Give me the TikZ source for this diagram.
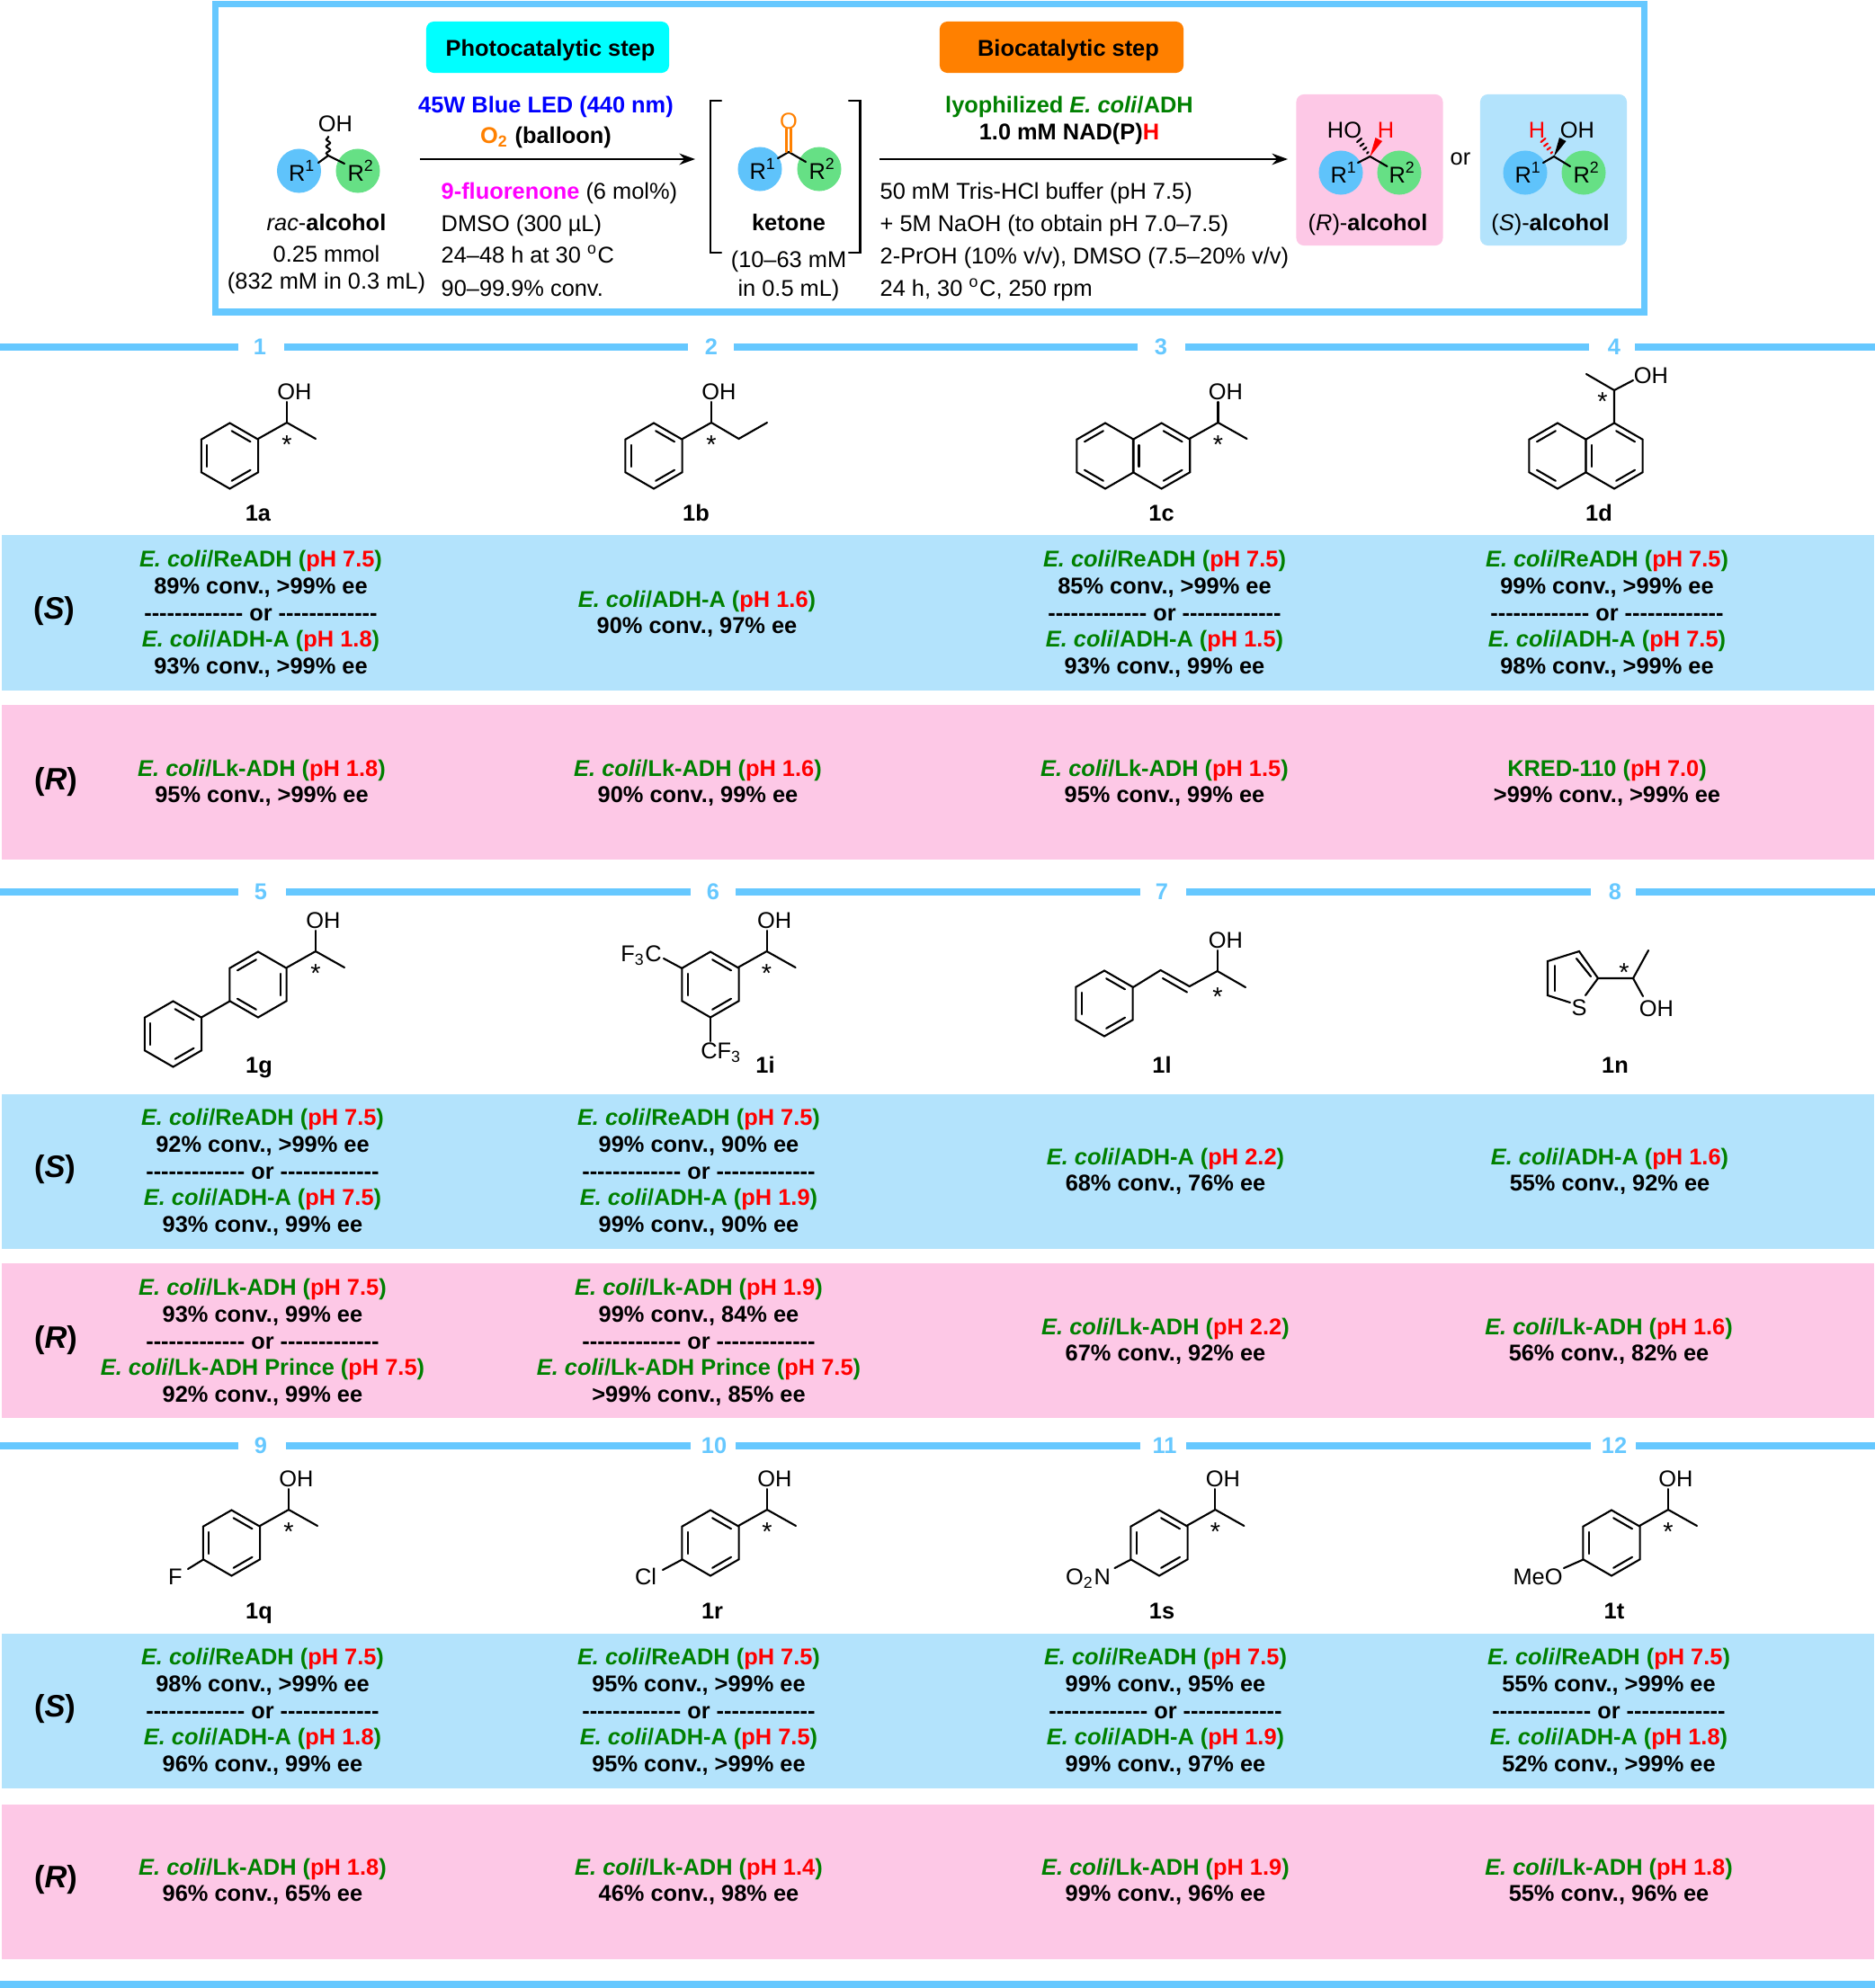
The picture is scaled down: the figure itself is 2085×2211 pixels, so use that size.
\documentclass[tikz,border=0pt]{standalone}
\usepackage{fontspec}
\setmainfont{Liberation Sans}
\usepackage{xcolor}
\usetikzlibrary{arrows.meta,positioning,calc,decorations.pathmorphing}
\definecolor{barblue}{HTML}{66C8FF}
\definecolor{bandblue}{HTML}{B3E3FC}
\definecolor{bandpink}{HTML}{FDC8E6}
\definecolor{rone}{HTML}{5FC3FB}
\definecolor{rtwo}{HTML}{66E085}
\definecolor{enzgreen}{HTML}{008000}
\definecolor{stepcyan}{HTML}{00FFFF}
\definecolor{steporange}{HTML}{FF8000}
\definecolor{fluormag}{HTML}{FF00FF}
\tikzset{
  every node/.style={font=\fontsize{7.22}{8.5}\selectfont, inner sep=0pt},
  bond/.style={line width=0.6pt, line cap=round},
  plainline/.style={text height=5.9pt, text depth=0.9pt},
  leftline/.style={plainline, anchor=west},
  cell/.style={align=center, yshift=-0.5pt, font=\fontsize{7.22}{8.5}\selectfont\bfseries},
  atom/.style={text height=5.2pt, text depth=0pt},
  compound/.style={text height=5.2pt, text depth=0pt, font=\fontsize{7.22}{8.5}\selectfont\bfseries},
  starmark/.style={yshift=-1.1pt, font=\fontsize{8.2}{9}\selectfont},
  rgroup/.style={circle, minimum size=0.49cm},
  stepbox/.style={rounded corners=2.4pt, minimum height=0.57cm},
  alcoholbox/.style={rounded corners=2.4pt, minimum width=1.63cm, minimum height=1.68cm},
  band/.style={minimum width=20.81cm, minimum height=1.72cm},
  bandmark/.style={font=\fontsize{9.8}{11}\selectfont\bfseries},
  secbar/.style={line width=2.2pt, barblue},
  secnum/.style={font=\fontsize{7.22}{8.5}\selectfont\bfseries, text=barblue},
  reaction/.style={line width=0.6pt, -{Stealth[length=5pt,width=3.6pt]}}
}
\newcommand{\ec}[2]{\textcolor{enzgreen}{\textit{E. coli}/#1 (}\textcolor{red}{pH #2}\textcolor{enzgreen}{)}}
\newcommand{\cv}[2]{#1\% conv., #2\% ee}
\newcommand{\orln}{-{}-{}-{}-{}-{}-{}-{}-{}-{}-{}-{}-{}- or -{}-{}-{}-{}-{}-{}-{}-{}-{}-{}-{}-{}-}
\newcommand{\rgrp}[1]{\kern2pt R\textsuperscript{#1}}
% hexagon centre x, centre y, edges with an inner line
\newcommand{\benzring}[3]{%
  \begin{scope}[shift={(#1,#2)}]
    \draw[bond] (30:36.5) -- (90:36.5) -- (150:36.5) -- (210:36.5) -- (270:36.5) -- (330:36.5) -- cycle;
    \foreach \k in {#3} {
      \draw[bond, shorten >=0.7pt, shorten <=0.7pt] ({30+60*\k}:29) -- ({90+60*\k}:29);
    }
  \end{scope}}
% side chain with the carbinol carbon at x, y
\newcommand{\carbinol}[2]{%
  \draw[bond] (#1-32,#2+18) -- (#1,#2) -- (#1+32,#2+18);
  \draw[bond] (#1,#2) -- (#1,#2-23);
  \node[atom] at (#1+8.5,#2-35) {OH};
  \node[starmark] at (#1,#2+21) {*};}
\begin{document}
\begin{tikzpicture}[x=0.01cm, y=-0.01cm]
\useasboundingbox (0,0) rectangle (2085,2211);
% scheme on top
\draw[barblue, line width=2pt] (239.5,4.5) rectangle (1828.5,347);
\node[stepbox, fill=stepcyan, minimum width=2.70cm] (photo) at (609,52.5) {};
\node[font=\fontsize{7.22}{8.5}\selectfont\bfseries, plainline] (phototext) at (612,54) {Photocatalytic step};
\node[stepbox, fill=steporange, minimum width=2.71cm] (bio) at (1180.5,52.5) {};
\node[font=\fontsize{7.22}{8.5}\selectfont\bfseries, plainline] (biotext) at (1188,54) {Biocatalytic step};

\node[rgroup, fill=rone] (racone) at (332.5,190) {\rgrp{1}};
\node[rgroup, fill=rtwo] (ractwo) at (398,190) {\rgrp{2}};
\draw[bond] (354,181) -- (365,173) -- (383,182);
\draw[bond, decorate, decoration={snake, amplitude=0.6pt, segment length=2.2pt}] (365,173) -- (365,152);
\node[atom] (racoh) at (373,137) {OH};
\node[plainline] (racname) at (363,248) {\textit{rac}-\textbf{alcohol}};
\node[plainline] (racamount) at (363,283) {0.25 mmol};
\node[plainline] (racconc) at (363,313) {(832 mM in 0.3 mL)};

\node[plainline] (led) at (607,117) {\textcolor{blue}{\textbf{45W Blue LED (440 nm)}}};
\node[plainline] (oxygen) at (607,151) {\textbf{\textcolor{steporange}{O\textsubscript{2}} (balloon)}};
\coordinate (photostart) at (467,177);
\coordinate (photoend) at (773,177);
\draw[reaction] (photostart) -- (photoend);
\node[leftline] (fluorenone) at (490,213) {\textcolor{fluormag}{\textbf{9-fluorenone}} (6 mol\%)};
\node[leftline] (dmso) at (490,249) {DMSO (300 µL)};
\node[leftline] (photohours) at (490,284) {24–48 h at 30 \textsuperscript{o}C};
\node[leftline] (photoconv) at (490,321) {90–99.9\% conv.};

\draw[bond] (802,112) -- (790,112) -- (790,281) -- (802,281);
\draw[bond] (944,112) -- (956.5,112) -- (956.5,281) -- (944,281);
\node[rgroup, fill=rone] (ketone one) at (845,188) {\rgrp{1}};
\node[rgroup, fill=rtwo] (ketone two) at (911,188) {\rgrp{2}};
\draw[bond] (865,176) -- (877,169) -- (896,180);
\draw[bond, steporange] (874.5,169) -- (874.5,143);
\draw[bond, steporange] (879.5,169) -- (879.5,143);
\node[atom, text=steporange] (ketoneo) at (877,134) {O};
\node[plainline] (ketonename) at (877,248) {\textbf{ketone}};
\node[plainline] (ketoneconc) at (877,289) {(10–63 mM};
\node[plainline] (ketonevol) at (877,321) {in 0.5 mL)};

\node[plainline] (lyo) at (1189,117) {\textcolor{enzgreen}{\textbf{lyophilized \textit{E. coli}/ADH}}};
\node[plainline] (nadh) at (1189,147) {\textbf{1.0 mM NAD(P)\textcolor{red}{H}}};
\coordinate (biostart) at (978,177);
\coordinate (bioend) at (1432,177);
\draw[reaction] (biostart) -- (bioend);
\node[leftline] (tris) at (978,213) {50 mM Tris-HCl buffer (pH 7.5)};
\node[leftline] (naoh) at (978,249) {+ 5M NaOH (to obtain pH 7.0–7.5)};
\node[leftline] (proh) at (978,285) {2-PrOH (10\% v/v), DMSO (7.5–20\% v/v)};
\node[leftline] (biohours) at (978,321) {24 h, 30 \textsuperscript{o}C, 250 rpm};

\node[alcoholbox, fill=bandpink] (rbox) at (1523,189) {};
\node[rgroup, fill=rone] (rone) at (1491,192) {\rgrp{1}};
\node[rgroup, fill=rtwo] (rtwo) at (1556,192) {\rgrp{2}};
\draw[bond] (1510,181) -- (1523.5,174) -- (1542.5,185);
\fill[red] (1523.5,174) -- (1529.5,153) -- (1537,157) -- cycle;
\draw[bond] (1520,170.5) -- (1521.5,169);
\draw[bond] (1516,166.5) -- (1519.5,164);
\draw[bond] (1512.5,162.5) -- (1516.5,159.5);
\draw[bond] (1509,158) -- (1514,154);
\node[atom] (rho) at (1495,144) {HO};
\node[atom, text=red] (rh) at (1541,144) {H};
\node[plainline] (rname) at (1521,248) {(\textit{R})-\textbf{alcohol}};
\node (ortext) at (1624,177) {or};
\node[alcoholbox, fill=bandblue] (sbox) at (1727.5,189) {};
\node[rgroup, fill=rone] (sone) at (1696,192) {\rgrp{1}};
\node[rgroup, fill=rtwo] (stwo) at (1761,192) {\rgrp{2}};
\draw[bond] (1716,181) -- (1728,174) -- (1746,185);
\fill[black] (1728,174) -- (1734,153) -- (1741.5,157) -- cycle;
\draw[bond, red] (1724.5,170.5) -- (1726,169);
\draw[bond, red] (1720.5,166.5) -- (1724,164);
\draw[bond, red] (1717,162.5) -- (1721,159.5);
\draw[bond, red] (1713.5,158) -- (1718.5,154);
\node[atom, text=red] (sh) at (1709,144) {H};
\node[atom] (soh) at (1754,144) {OH};
\node[plainline] (sname) at (1724,248) {(\textit{S})-\textbf{alcohol}};

% entries 1 to 4
\draw[secbar] (0,386) -- (265,386) (316,386) -- (765,386) (816,386) -- (1265,386) (1318,386) -- (1767,386) (1818,386) -- (2085,386);
\node[secnum] (num1) at (289,386) {1};
\node[secnum] (num2) at (791,386) {2};
\node[secnum] (num3) at (1291,386) {3};
\node[secnum] (num4) at (1795,386) {4};

\benzring{255.5}{507}{4,2,0}
\carbinol{319}{470}
\node[compound] (c1a) at (287,570) {1a};
\benzring{727}{507}{4,2,0}
\draw[bond] (759,488) -- (791,470) -- (821.5,488) -- (853,470);
\draw[bond] (791,470) -- (791,447);
\node[atom] (ohb) at (799.5,435) {OH};
\node[starmark] (starb) at (791,491) {*};
\node[compound] (c1b) at (774,570) {1b};
\benzring{1229}{507}{3,1}
\benzring{1291.6}{507}{4,2,0}
\carbinol{1354.5}{470}
\node[compound] (c1c) at (1291.6,570) {1c};
\benzring{1732}{507}{3,1}
\benzring{1795}{507}{4,2,0}
\draw[bond] (1795,470) -- (1795,434) -- (1764,416);
\draw[bond] (1795,434) -- (1816,423);
\node[atom] (ohd) at (1836,417) {OH};
\node[starmark] (stard) at (1782,443) {*};
\node[compound] (c1d) at (1778,570) {1d};

\node[band, fill=bandblue] (sbandA) at (1043,681.5) {};
\node[band, fill=bandpink] (rbandA) at (1043,870) {};
\node[bandmark] (slabelA) at (60,680) {(\textit{S})};
\node[bandmark] (rlabelA) at (62,870) {(\textit{R})};
\node[cell] (s1) at (290,681) {\ec{ReADH}{7.5}\\ \cv{89}{>99}\\ \orln\\ \ec{ADH-A}{1.8}\\ \cv{93}{>99}};
\node[cell] (s2) at (775,681) {\ec{ADH-A}{1.6}\\ \cv{90}{97}};
\node[cell] (s3) at (1295,681) {\ec{ReADH}{7.5}\\ \cv{85}{>99}\\ \orln\\ \ec{ADH-A}{1.5}\\ \cv{93}{99}};
\node[cell] (s4) at (1787,681) {\ec{ReADH}{7.5}\\ \cv{99}{>99}\\ \orln\\ \ec{ADH-A}{7.5}\\ \cv{98}{>99}};
\node[cell] (r1) at (291,869) {\ec{Lk-ADH}{1.8}\\ \cv{95}{>99}};
\node[cell] (r2) at (776,869) {\ec{Lk-ADH}{1.6}\\ \cv{90}{99}};
\node[cell] (r3) at (1295,869) {\ec{Lk-ADH}{1.5}\\ \cv{95}{99}};
\node[cell] (r4) at (1787,869) {\textcolor{enzgreen}{KRED-110 (}\textcolor{red}{pH 7.0}\textcolor{enzgreen}{)}\\ \cv{>99}{>99}};

% entries 5 to 8
\draw[secbar] (0,992) -- (265,992) (318,992) -- (768,992) (818,992) -- (1268,992) (1319,992) -- (1769,992) (1819,992) -- (2085,992);
\node[secnum] (num5) at (290,992) {5};
\node[secnum] (num6) at (793,992) {6};
\node[secnum] (num7) at (1292,992) {7};
\node[secnum] (num8) at (1796,992) {8};

\benzring{287}{1095}{3,5,1}
\benzring{192.5}{1150}{4,2,0}
\draw[bond] (255.5,1113.5) -- (224,1131.5);
\carbinol{351}{1058}
\node[compound] (c1g) at (288,1184) {1g};
\benzring{790}{1095}{4,2,0}
\carbinol{852.6}{1058}
\draw[bond] (758.5,1077) -- (738,1066);
\draw[bond] (790,1132) -- (790,1158);
\node[atom] (cfa) at (713,1060) {F\textsubscript{3}C};
\node[atom] (cfb) at (802,1168) {CF\textsubscript{3}};
\node[compound] (c1i) at (851,1184) {1i};
\benzring{1228}{1116}{4,2,0}
\draw[bond] (1260,1098) -- (1290.6,1079) -- (1322.7,1097) -- (1353.7,1080) -- (1385,1098);
\draw[bond] (1293,1088) -- (1320,1103.5);
\draw[bond] (1353.7,1080) -- (1353.7,1057);
\node[atom] (ohl) at (1363,1045) {OH};
\node[starmark] (starl) at (1354,1105) {*};
\node[compound] (c1l) at (1292,1184) {1l};
\draw[bond] (1777,1088) -- (1756,1058) -- (1721,1069) -- (1721,1107) -- (1746,1115);
\draw[bond] (1763,1107) -- (1777,1088) -- (1816,1088) -- (1833,1057);
\draw[bond] (1769,1086) -- (1753,1066);
\draw[bond] (1729,1074) -- (1729,1102);
\draw[bond] (1816,1088) -- (1827,1108);
\node[atom] (sul) at (1756,1120) {S};
\node[atom] (ohn) at (1842,1121) {OH};
\node[starmark] (starn) at (1806,1078) {*};
\node[compound] (c1n) at (1796,1184) {1n};

\node[band, fill=bandblue] (sbandB) at (1043,1303) {};
\node[band, fill=bandpink] (rbandB) at (1043,1491) {};
\node[bandmark] (slabelB) at (61,1301) {(\textit{S})};
\node[bandmark] (rlabelB) at (62,1491) {(\textit{R})};
\node[cell] (s5) at (292,1302) {\ec{ReADH}{7.5}\\ \cv{92}{>99}\\ \orln\\ \ec{ADH-A}{7.5}\\ \cv{93}{99}};
\node[cell] (s6) at (777,1302) {\ec{ReADH}{7.5}\\ \cv{99}{90}\\ \orln\\ \ec{ADH-A}{1.9}\\ \cv{99}{90}};
\node[cell] (s7) at (1296,1301) {\ec{ADH-A}{2.2}\\ \cv{68}{76}};
\node[cell] (s8) at (1790,1301) {\ec{ADH-A}{1.6}\\ \cv{55}{92}};
\node[cell] (r5) at (292,1491) {\ec{Lk-ADH}{7.5}\\ \cv{93}{99}\\ \orln\\ \ec{Lk-ADH Prince}{7.5}\\ \cv{92}{99}};
\node[cell] (r6) at (777,1491) {\ec{Lk-ADH}{1.9}\\ \cv{99}{84}\\ \orln\\ \ec{Lk-ADH Prince}{7.5}\\ \cv{>99}{85}};
\node[cell] (r7) at (1296,1490) {\ec{Lk-ADH}{2.2}\\ \cv{67}{92}};
\node[cell] (r8) at (1789,1490) {\ec{Lk-ADH}{1.6}\\ \cv{56}{82}};

% entries 9 to 12
\draw[secbar] (0,1608) -- (265,1608) (318,1608) -- (768,1608) (818,1608) -- (1268,1608) (1319,1608) -- (1769,1608) (1819,1608) -- (2085,1608);
\node[secnum] (num9) at (290,1608) {9};
\node[secnum] (num10) at (794,1608) {10};
\node[secnum] (num11) at (1295,1608) {11};
\node[secnum] (num12) at (1795,1608) {12};

\benzring{257.5}{1716}{4,2,0}
\carbinol{321}{1679}
\draw[bond] (226,1734.5) -- (209,1745);
\node[atom] (fluoro) at (195,1753) {F};
\node[compound] (c1q) at (288,1791) {1q};
\benzring{790}{1716}{4,2,0}
\carbinol{853}{1679}
\draw[bond] (758.5,1734.5) -- (737,1746);
\node[atom] (chloro) at (718,1753) {Cl};
\node[compound] (c1r) at (792,1791) {1r};
\benzring{1289}{1716}{4,2,0}
\carbinol{1351.4}{1679}
\draw[bond] (1257.5,1734.5) -- (1239.5,1744);
\node[atom] (nitro) at (1210,1753) {O\textsubscript{2}N};
\node[compound] (c1s) at (1292,1791) {1s};
\benzring{1792}{1716}{4,2,0}
\carbinol{1855}{1679}
\draw[bond] (1760.5,1734.5) -- (1739,1744);
\node[atom] (methoxy) at (1710,1753) {MeO};
\node[compound] (c1t) at (1795,1791) {1t};

\node[band, fill=bandblue] (sbandC) at (1043,1903) {};
\node[band, fill=bandpink] (rbandC) at (1043,2093) {};
\node[bandmark] (slabelC) at (61,1901) {(\textit{S})};
\node[bandmark] (rlabelC) at (62,2091) {(\textit{R})};
\node[cell] (s9) at (292,1902) {\ec{ReADH}{7.5}\\ \cv{98}{>99}\\ \orln\\ \ec{ADH-A}{1.8}\\ \cv{96}{99}};
\node[cell] (s10) at (777,1902) {\ec{ReADH}{7.5}\\ \cv{95}{>99}\\ \orln\\ \ec{ADH-A}{7.5}\\ \cv{95}{>99}};
\node[cell] (s11) at (1296,1902) {\ec{ReADH}{7.5}\\ \cv{99}{95}\\ \orln\\ \ec{ADH-A}{1.9}\\ \cv{99}{97}};
\node[cell] (s12) at (1789,1902) {\ec{ReADH}{7.5}\\ \cv{55}{>99}\\ \orln\\ \ec{ADH-A}{1.8}\\ \cv{52}{>99}};
\node[cell] (r9) at (292,2091) {\ec{Lk-ADH}{1.8}\\ \cv{96}{65}};
\node[cell] (r10) at (777,2091) {\ec{Lk-ADH}{1.4}\\ \cv{46}{98}};
\node[cell] (r11) at (1296,2091) {\ec{Lk-ADH}{1.9}\\ \cv{99}{96}};
\node[cell] (r12) at (1789,2091) {\ec{Lk-ADH}{1.8}\\ \cv{55}{96}};

\draw[secbar] (0,2207) -- (2085,2207);
\end{tikzpicture}
\end{document}
